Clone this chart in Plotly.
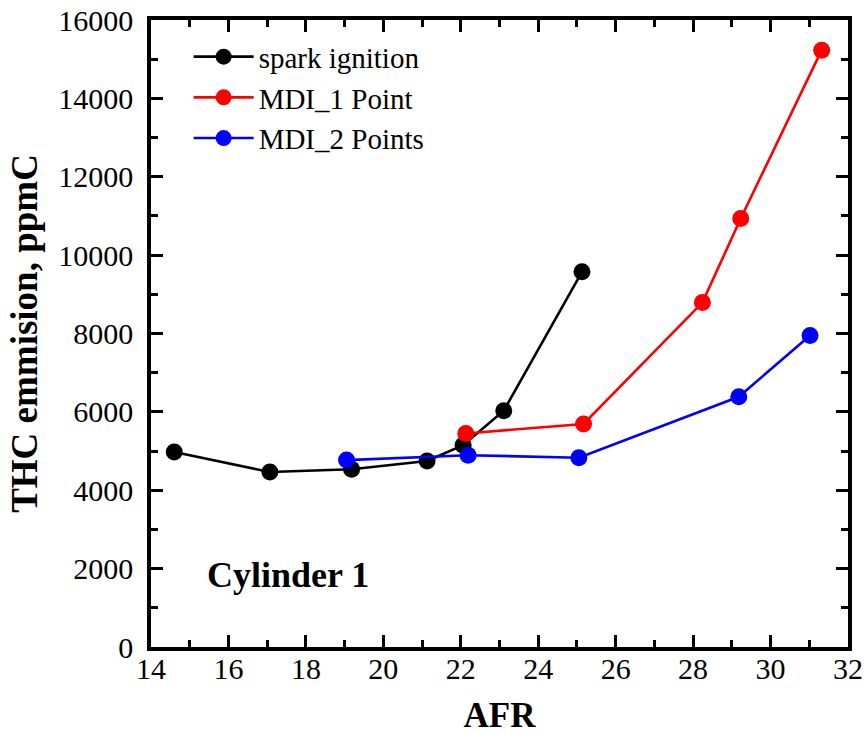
import plotly.graph_objects as go

# Data
si_afr = [14.6, 17.07, 19.18, 21.13, 22.06, 23.11, 25.13]
si_thc = [4975, 4465, 4535, 4745, 5150, 6030, 9575]

mdi1_afr = [22.13, 25.17, 28.24, 29.23, 31.32]
mdi1_thc = [5450, 5690, 8790, 10935, 15230]

mdi2_afr = [19.05, 22.19, 25.05, 29.18, 31.02]
mdi2_thc = [4770, 4895, 4830, 6385, 7950]

FONT = "Times New Roman, Times, Liberation Serif, Tinos, DejaVu Serif, serif"

fig = go.Figure()
for name, xs, ys, col in [
    ("spark ignition", si_afr, si_thc, "black"),
    ("MDI_1 Point", mdi1_afr, mdi1_thc, "#ff0000"),
    ("MDI_2 Points", mdi2_afr, mdi2_thc, "#0000ff"),
]:
    fig.add_trace(go.Scatter(
        x=xs, y=ys, name=name, mode="lines+markers",
        line=dict(color=col, width=2.6),
        marker=dict(color=col, size=17, symbol="circle"),
    ))

axis_common = dict(
    showline=True, linecolor="black", linewidth=3.5, mirror="ticks",
    ticks="inside", ticklen=12, tickwidth=3, tickcolor="black",
    showgrid=False, zeroline=False, automargin=False,
    tickformat="d",
    tickfont=dict(family=FONT, size=30, color="black"),
)

fig.update_xaxes(
    range=[14, 32], dtick=2, tick0=14,
    minor=dict(ticks="inside", ticklen=7, tickwidth=3, dtick=1, tickcolor="black"),
    title=dict(text="<b>AFR</b>", font=dict(family=FONT, size=35, color="black"), standoff=30),
    ticklabelstandoff=-8,
    **axis_common,
)
fig.update_yaxes(
    range=[0, 16000], dtick=2000, tick0=0,
    minor=dict(ticks="inside", ticklen=7, tickwidth=3, dtick=1000, tickcolor="black"),
    title=dict(text="<b>THC emmision, ppmC</b>", font=dict(family=FONT, size=37, color="black"), standoff=10),
    ticklabelstandoff=8,
    **axis_common,
)

fig.add_annotation(
    x=17.55, y=1850, xref="x", yref="y", text="<b>Cylinder 1</b>",
    showarrow=False, font=dict(family=FONT, size=36, color="black"),
)

fig.update_layout(
    width=867, height=735,
    margin=dict(l=151, r=19, t=20, b=88),
    paper_bgcolor="white", plot_bgcolor="white",
    font=dict(family=FONT, size=30, color="black"),
    showlegend=True,
    legend=dict(
        x=0.054, y=0.982, xanchor="left", yanchor="top",
        bgcolor="rgba(0,0,0,0)", borderwidth=0,
        font=dict(family=FONT, size=29, color="black"),
        itemwidth=60, tracegroupgap=0,
    ),
)

fig.write_html("out.html")
